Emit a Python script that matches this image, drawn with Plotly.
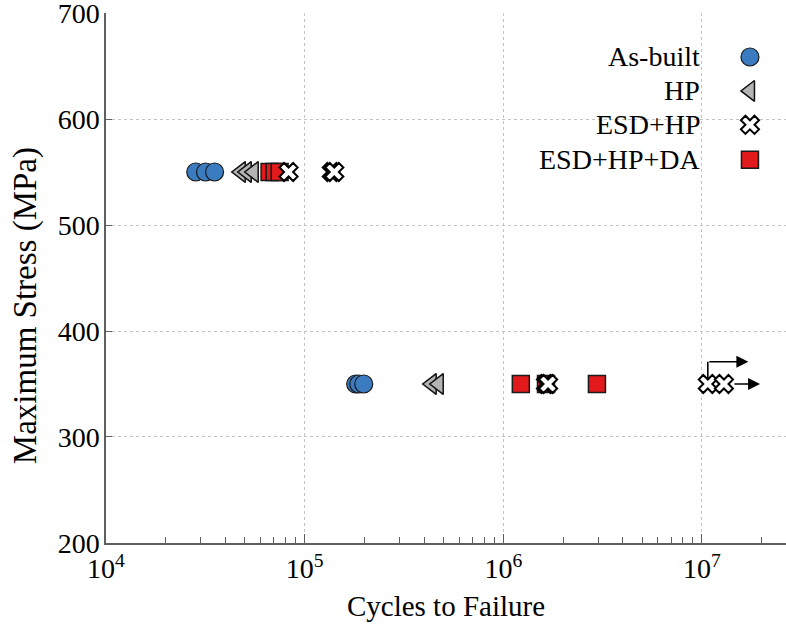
import math
import plotly.graph_objects as go

# ---------------- data ----------------
series_names = ["As-built", "HP", "ESD+HP", "ESD+HP+DA"]

asbuilt_cycles = [28300, 31700, 35200, 180700, 187200, 198300]
asbuilt_stress = [550, 550, 550, 350, 350, 350]

hp_cycles = [47700, 51100, 55400, 436000, 473000]
hp_stress = [550, 550, 550, 350, 350]

esdhpda_cycles = [66600, 70600, 74800, 1225000, 1640000, 2960000]
esdhpda_stress = [550, 550, 550, 350, 350, 350]

esdhp_cycles = [83000, 137000, 141000, 1640000, 1680000]
esdhp_stress = [550, 550, 550, 350, 350]

runout_cycles = [10700000, 12900000]   # ESD+HP run-outs (arrows)
runout_stress = [350, 350]

x_tickvals = [1e4, 1e5, 1e6, 1e7]
x_ticktext = ["10<sup>4</sup>", "10<sup>5</sup>", "10<sup>6</sup>", "10<sup>7</sup>"]
x_minor_vals = [m * d for d in [1e4, 1e5, 1e6, 1e7] for m in range(2, 10)]
y_tickvals = [200, 300, 400, 500, 600, 700]

# ---------------- styles ----------------
FONT = "Liberation Serif"
FS = 28
styles = {
    "As-built": dict(symbol="circle", size=18, color="#3b7bbf", line=dict(color="#1a1a1a", width=1.2)),
    "HP": dict(symbol="triangle-left", size=18, color="#b4b4b4", line=dict(color="#111111", width=1.5)),
    "ESD+HP": dict(symbol="x", size=16, color="#ffffff", line=dict(color="#000000", width=2)),
    "ESD+HP+DA": dict(symbol="square", size=17, color="#e31a1c", line=dict(color="#1a1a1a", width=1.5)),
}

fig = go.Figure()

# elbow run-out arrow: vertical part (drawn under markers)
elbow_offset = 21
fig.add_trace(go.Scatter(
    x=[runout_cycles[0], runout_cycles[0]],
    y=[runout_stress[0], runout_stress[0] + elbow_offset],
    mode="lines", line=dict(color="black", width=1.6),
    showlegend=False, hoverinfo="skip"))

fig.add_trace(go.Scatter(x=asbuilt_cycles, y=asbuilt_stress, mode="markers",
                         marker=styles["As-built"], name="As-built", showlegend=False))
fig.add_trace(go.Scatter(x=hp_cycles, y=hp_stress, mode="markers",
                         marker=styles["HP"], name="HP", showlegend=False))
fig.add_trace(go.Scatter(x=esdhpda_cycles, y=esdhpda_stress, mode="markers",
                         marker=styles["ESD+HP+DA"], name="ESD+HP+DA", showlegend=False))
fig.add_trace(go.Scatter(x=esdhp_cycles + runout_cycles, y=esdhp_stress + runout_stress,
                         mode="markers", marker=styles["ESD+HP"], name="ESD+HP", showlegend=False))

# run-out arrows (horizontal)
arrow_factor = [1.6, 1.52]
fig.add_annotation(x=math.log10(runout_cycles[0] * arrow_factor[0]), y=runout_stress[0] + elbow_offset,
                   ax=math.log10(runout_cycles[0]), ay=runout_stress[0] + elbow_offset,
                   xref="x", yref="y", axref="x", ayref="y", text="", showarrow=True,
                   arrowhead=2, arrowsize=1.5, arrowwidth=1.6, arrowcolor="black")
fig.add_annotation(x=math.log10(runout_cycles[1] * arrow_factor[1]), y=runout_stress[1],
                   ax=math.log10(runout_cycles[1]), ay=runout_stress[1],
                   xref="x", yref="y", axref="x", ayref="y", text="", showarrow=True,
                   arrowhead=2, arrowsize=1.5, arrowwidth=1.6, arrowcolor="black",
                   startstandoff=9)

# ---------------- custom legend (text left, symbol right) ----------------
leg_sym_x = 0.947
leg_text_x = 0.876
leg_rows_y = [0.917, 0.853, 0.789, 0.723]
fig.add_shape(type="rect", xref="paper", yref="paper", x0=0.693, x1=0.97, y0=0.69, y1=0.95,
              fillcolor="white", line=dict(width=0), layer="between")
for name, yy in zip(series_names, leg_rows_y):
    fig.add_trace(go.Scatter(x=[leg_sym_x], y=[yy], xaxis="x2", yaxis="y2", mode="markers",
                             marker=styles[name], showlegend=False, hoverinfo="skip"))
    fig.add_annotation(x=leg_text_x, y=yy, xref="paper", yref="paper", text=name,
                       showarrow=False, xanchor="right", yanchor="middle",
                       font=dict(family=FONT, size=FS, color="black"))

# y-axis title as rotated annotation
fig.add_annotation(x=-0.119, y=0.447, xref="paper", yref="paper", text="Maximum Stress (MPa)",
                   textangle=-90, showarrow=False, xanchor="center", yanchor="middle",
                   font=dict(family=FONT, size=33, color="black"))

axis_color = "#5f5f5f"
fig.update_layout(
    width=786, height=630,
    margin=dict(l=106, r=0, t=13, b=87, autoexpand=False),
    paper_bgcolor="white", plot_bgcolor="white",
    font=dict(family=FONT, size=FS, color="black"),
    showlegend=False,
    xaxis=dict(type="log", range=[4, 7.423], automargin=False,
               tickmode="array", tickvals=x_tickvals, ticktext=x_ticktext,
               ticks="inside", ticklen=9, tickcolor=axis_color, tickwidth=1.2,
               minor=dict(tickmode="array", tickvals=x_minor_vals, ticks="inside", ticklen=6,
                          tickcolor=axis_color, tickwidth=1, showgrid=False),
               showline=True, linecolor=axis_color, linewidth=1.5,
               showgrid=True, gridcolor="#c4c4c4", griddash="dot", gridwidth=1,
               zeroline=False,
               title=dict(text="Cycles to Failure", standoff=12, font=dict(family=FONT, size=29)),
               tickfont=dict(family=FONT, size=FS)),
    yaxis=dict(range=[199.99, 700.01], tickmode="array", tickvals=y_tickvals, automargin=False,
               ticks="inside", ticklen=6, tickcolor=axis_color, tickwidth=1.2,
               showline=True, linecolor=axis_color, linewidth=1.5,
               showgrid=True, gridcolor="#c4c4c4", griddash="dot", gridwidth=1,
               zeroline=False, ticklabelstandoff=-1, ticklabeloverflow="allow",
               tickfont=dict(family=FONT, size=FS)),
    xaxis2=dict(range=[0, 1], overlaying="x", anchor="y2", visible=False),
    yaxis2=dict(range=[0, 1], overlaying="y", anchor="x2", visible=False),
)

fig.write_html("out.html", config={"displayModeBar": False},
               post_script="document.body.style.margin='0';")
